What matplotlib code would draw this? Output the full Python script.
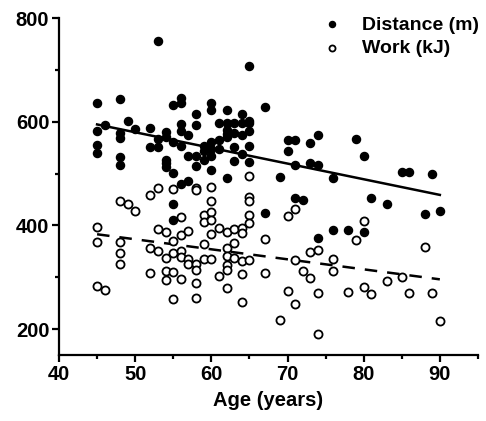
import matplotlib
matplotlib.use('Agg')
import matplotlib.pyplot as plt
from matplotlib.ticker import MultipleLocator

OUT_PATH = 'out.png'

# Distance (m) per participant
dist_age = [45, 45, 45, 45, 46, 48, 48, 48, 48, 48, 49, 50, 52, 52, 53, 53, 53,
            54, 54, 54, 54, 54, 55, 55, 55, 55, 55, 56, 56, 56, 56, 56, 56,
            57, 57, 57, 58, 58, 58, 58, 59, 59, 59, 60, 60, 60, 60, 60, 60,
            61, 61, 61, 62, 62, 62, 62, 62, 62, 63, 63, 63, 63, 64, 64, 64, 64,
            65, 65, 65, 65, 65, 65, 67, 67, 69, 70, 70, 71, 71, 71, 72, 73, 73,
            74, 74, 74, 76, 76, 78, 79, 80, 80, 81, 83, 85, 86, 88, 89, 90]
dist_val = [636, 583, 556, 539, 593, 644, 579, 569, 532, 516, 601, 586, 588, 552, 756, 567, 551,
            580, 571, 527, 520, 512, 633, 562, 502, 441, 410, 646, 636, 596, 583, 554, 480,
            575, 534, 486, 615, 593, 534, 514, 553, 543, 527, 637, 622, 561, 548, 535, 508,
            597, 565, 548, 622, 598, 585, 577, 570, 491, 598, 578, 551, 525, 615, 598, 575, 538,
            707, 602, 597, 583, 554, 522, 628, 425, 494, 564, 543, 564, 516, 453, 450, 559, 520,
            575, 516, 375, 492, 391, 392, 567, 534, 387, 453, 441, 504, 504, 423, 500, 427]

# Work (kJ) per participant
work_age = [45, 45, 45, 46, 48, 48, 48, 48, 49, 50, 52, 52, 52, 53, 53, 53,
            54, 54, 54, 54, 55, 55, 55, 55, 55, 56, 56, 56, 56, 56, 57, 57, 57,
            58, 58, 58, 58, 58, 58, 59, 59, 59, 59, 60, 60, 60, 60, 60, 60, 61, 61,
            62, 62, 62, 62, 62, 62, 63, 63, 63, 64, 64, 64, 64, 64,
            65, 65, 65, 65, 65, 65, 67, 67, 69, 70, 70, 71, 71, 71, 72, 73, 73,
            74, 74, 74, 76, 76, 78, 79, 80, 80, 81, 83, 85, 86, 88, 89, 90]
work_val = [398, 368, 283, 275, 448, 369, 346, 326, 441, 427, 458, 357, 308, 473, 393, 351,
            387, 337, 312, 294, 471, 370, 346, 310, 259, 417, 382, 351, 340, 296, 389, 335, 325,
            473, 468, 326, 315, 289, 260, 421, 407, 365, 336, 474, 448, 426, 410, 383, 336, 395, 303,
            388, 357, 342, 324, 315, 279, 394, 367, 337, 395, 386, 331, 307, 253,
            496, 455, 448, 421, 405, 333, 373, 308, 217, 419, 274, 431, 333, 249, 313, 349, 299,
            352, 270, 190, 336, 312, 271, 371, 408, 281, 267, 293, 301, 270, 358, 269, 216]

# regression lines, end points
fit_age = [45, 90]
fit_dist = [595, 459]
fit_work = [383, 296]

plt.rcParams['font.family'] = ['Liberation Sans', 'DejaVu Sans']
plt.rcParams['font.weight'] = 'bold'

fig = plt.figure(figsize=(4.86, 4.21), dpi=100)
ax = fig.add_axes([0.1214, 0.1568, 0.862, 0.7999])

ax.scatter(dist_age, dist_val, s=34, color='black', label='Distance (m)', zorder=3)
ax.scatter(work_age, work_val, s=34, facecolor='white', edgecolor='black',
           linewidths=1.3, label='Work (kJ)', zorder=3)
ax.plot(fit_age, fit_dist, color='black', lw=1.8, zorder=2)
ax.plot(fit_age, fit_work, color='black', lw=1.8, dashes=(5, 4), zorder=2)

ax.set_xlim(40, 95)
ax.set_ylim(150, 800)
ax.xaxis.set_major_locator(MultipleLocator(10))
ax.xaxis.set_minor_locator(MultipleLocator(5))
ax.yaxis.set_major_locator(MultipleLocator(200))
ax.yaxis.set_minor_locator(MultipleLocator(100))
ax.set_xticks([40, 50, 60, 70, 80, 90])

for side in ['top', 'right']:
    ax.spines[side].set_visible(False)
for side in ['left', 'bottom']:
    ax.spines[side].set_linewidth(1.6)

ax.tick_params(which='major', length=5, width=1.6, labelsize=14.5, pad=2)
ax.tick_params(which='minor', length=3, width=1.6)
ax.set_xlabel('Age (years)', fontsize=14.5, fontweight='bold', labelpad=5)

ax.legend(loc='upper right', frameon=False, fontsize=14, markerscale=0.75,
          handletextpad=0.5, borderaxespad=0.0, labelspacing=0.3,
          bbox_to_anchor=(1.02, 1.03))

plt.savefig(OUT_PATH, dpi=100)
